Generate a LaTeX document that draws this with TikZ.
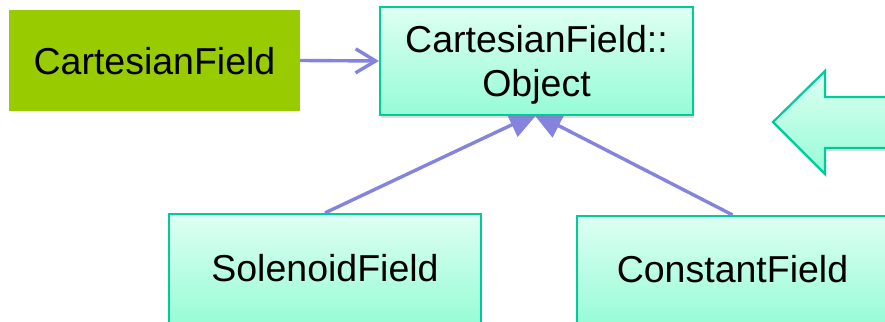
\documentclass[tikz,border=0pt]{standalone}
\usepackage{fontspec}
\setmainfont{Liberation Sans}
\usetikzlibrary{arrows.meta,shadows}
\pgfdeclarelayer{background}
\pgfsetlayers{background,main}
\definecolor{limegreen}{RGB}{153,204,0}
\definecolor{mintTop}{RGB}{222,255,242}
\definecolor{mintBot}{RGB}{150,252,214}
\definecolor{mintLine}{RGB}{0,204,153}
\definecolor{conn}{RGB}{132,132,222}
\begin{document}
\begin{tikzpicture}[x=1pt,y=1pt,
  mintfill/.style={draw=mintLine, line width=2.2pt, top color=mintTop, bottom color=mintBot,
    drop shadow={shadow xshift=1pt, shadow yshift=-3pt, opacity=0.25}},
  mintbox/.style={mintfill, rectangle, inner sep=0pt},
  lbl/.style={font=\fontsize{37.5}{44}\selectfont, anchor=base, inner sep=0pt},
  inh/.style={draw=conn, line width=3.4pt, -{Triangle[length=30pt,width=26pt]}},
  assoc/.style={draw=conn, line width=3.4pt, -{Straight Barb[length=20pt,width=24pt]}}]
\useasboundingbox (0,0) rectangle (885,321);
\clip (0,0) rectangle (885,321);
% boxes
\node[rectangle, fill=limegreen, minimum width=291pt, minimum height=101pt] (cf) at (154.5,260.5) {};
\node[mintbox, minimum width=313pt, minimum height=108pt] (obj) at (536.5,260) {};
\node[mintbox, minimum width=312pt, minimum height=112pt] (sol) at (325,51) {};
\node[mintbox, minimum width=311pt, minimum height=110pt] (con) at (732.5,50) {};
% big arrow
\path[mintfill] (773,199) -- (825,250) -- (825,224) -- (900,224) -- (900,173) -- (825,173) -- (825,147) -- cycle;
% texts
\node[lbl] (cftxt) at (154.5,246) {CartesianField};
\node[lbl] (objtxtA) at (536.5,268) {CartesianField::};
\node[lbl] (objtxtB) at (536.5,224) {Object};
\node[lbl] (soltxt) at (325,39) {SolenoidField};
\node[lbl] (contxt) at (732.5,38) {ConstantField};
% connectors
\coordinate (tipL) at (539,209);
\coordinate (tipR) at (532,209);
\begin{pgfonlayer}{background}
\draw[assoc] (cf.east) -- (obj.west);
\draw[inh] (sol.north) -- (tipL);
\draw[inh] (con.north) -- (tipR);
\end{pgfonlayer}
\end{tikzpicture}
\end{document}
